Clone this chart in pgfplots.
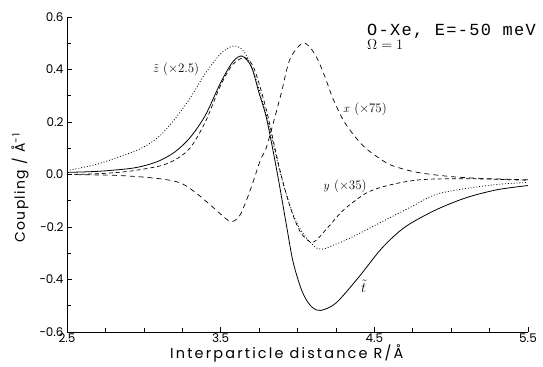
\documentclass[border=0pt]{standalone}
\usepackage{fontspec}
\setsansfont{Poppins}
\setmonofont{Liberation Mono}
\usepackage{pgfplots}
\pgfplotsset{compat=1.18}
\begin{document}
\begin{tikzpicture}
\begin{axis}[
  at={(0,0)}, anchor=south west,
  scale only axis, width=461bp, height=315bp,
  xmin=2.5, xmax=5.5, ymin=-0.6, ymax=0.6,
  clip=false,
  axis x line*=bottom, axis y line*=left,
  axis line style={-, line width=0.7pt},
  xtick={2.5,3.5,4.5,5.5}, xticklabels={2.5,3.5,4.5,5.5},
  minor xtick={2.75,3,3.25,3.75,4,4.25,4.75,5,5.25},
  ytick={-0.6,-0.4,-0.2,0,0.2,0.4,0.6},
  yticklabels={−0.6,−0.4,−0.2,0.0,0.2,0.4,0.6},
  minor ytick={-0.5,-0.3,-0.1,0.1,0.3,0.5},
  xtick pos=bottom, ytick pos=left,
  tick align=inside, major tick length=5bp, minor tick length=4bp,
  tick style={draw=black, line width=0.6pt},
  ticklabel style={font=\sffamily\fontsize{12}{14}\selectfont},
  xticklabel style={yshift=2bp},
  every axis x label/.style={at={(axis description cs:0.2234,-0.069)}, anchor=west, inner sep=0pt},
  every axis y label/.style={at={(axis description cs:-0.102,0.283)}, anchor=west, rotate=90, inner sep=0pt},
  xlabel={\sffamily\fontsize{14.5}{16}\selectfont\addfontfeatures{LetterSpace=15}Interparticle distance R/Å},
  ylabel={\sffamily\fontsize{14}{16}\selectfont\addfontfeatures{LetterSpace=10}Coupling / Å\textsuperscript{−1}},
]
% t (solid)
\addplot[black, line width=0.8pt, smooth, tension=0.5] coordinates {
(2.5,0.008) (2.7,0.012) (2.9,0.022) (3.0,0.033) (3.1,0.052) (3.2,0.085) (3.3,0.14)
(3.4,0.225) (3.5,0.35) (3.58,0.43) (3.64,0.451) (3.7,0.41) (3.75,0.31) (3.8,0.21)
(3.87,0.0) (3.93,-0.2) (3.97,-0.33) (4.02,-0.43) (4.06,-0.48) (4.1,-0.508) (4.15,-0.518) (4.25,-0.49)
(4.4,-0.39) (4.55,-0.28) (4.7,-0.20) (4.9,-0.135) (5.1,-0.088) (5.3,-0.058) (5.5,-0.042)
};
% z (dotted)
\addplot[black, line width=0.8pt, dash pattern=on 0.9pt off 2pt, smooth, tension=0.5] coordinates {
(2.5,0.015) (2.7,0.04) (2.9,0.08) (3.0,0.105) (3.1,0.145) (3.2,0.21) (3.3,0.29)
(3.4,0.385) (3.5,0.46) (3.58,0.489) (3.65,0.47) (3.72,0.38) (3.8,0.22) (3.9,-0.02)
(4.0,-0.19) (4.13,-0.282) (4.25,-0.265) (4.35,-0.24) (4.55,-0.18) (4.75,-0.12)
(4.9,-0.076) (5.1,-0.053) (5.3,-0.038) (5.5,-0.03)
};
% y (dashed)
\addplot[black, line width=0.7pt, dash pattern=on 4pt off 3pt, smooth, tension=0.5] coordinates {
(2.5,0.0) (2.7,0.003) (2.9,0.012) (3.1,0.032) (3.2,0.055) (3.3,0.10) (3.4,0.20)
(3.5,0.34) (3.58,0.42) (3.66,0.445) (3.72,0.40) (3.8,0.24) (3.88,0.03) (3.95,-0.12)
(4.02,-0.22) (4.1,-0.258) (4.2,-0.2) (4.3,-0.135) (4.45,-0.07) (4.6,-0.04)
(4.8,-0.02) (5.1,-0.016) (5.5,-0.022)
};
% x (dashed, longer)
\addplot[black, line width=0.7pt, dash pattern=on 5pt off 4pt, smooth, tension=0.5] coordinates {
(2.5,0.0) (2.8,-0.003) (3.0,-0.01) (3.15,-0.02) (3.25,-0.035) (3.35,-0.075)
(3.45,-0.125) (3.56,-0.178) (3.62,-0.16) (3.67,-0.095) (3.71,-0.03) (3.76,0.057)
(3.8,0.108) (3.89,0.30) (3.95,0.438) (4.03,0.50) (4.08,0.485) (4.13,0.44) (4.18,0.37)
(4.23,0.29) (4.3,0.205) (4.38,0.14) (4.45,0.097) (4.55,0.055) (4.62,0.033) (4.78,0.008)
(5.0,-0.008) (5.2,-0.015) (5.5,-0.02)
};
\node[anchor=center, font=\fontsize{13}{15}\selectfont] at (axis cs:3.21,0.40) {$\tilde z$ (×2.5)};
\node[anchor=center, font=\fontsize{13}{15}\selectfont] at (axis cs:4.44,0.248) {$x$ (×75)};
\node[anchor=center, font=\fontsize{13}{15}\selectfont] at (axis cs:4.31,-0.046) {$y$ (×35)};
\node[anchor=center, font=\fontsize{14}{16}\selectfont] at (axis cs:4.43,-0.425) {$\tilde t$};
\node[anchor=west, inner sep=0pt, font=\ttfamily\fontsize{17}{19}\selectfont\addfontfeatures{LetterSpace=8}] at (axis cs:4.452,0.545) {O-Xe, E=-50 meV};
\node[anchor=west, inner sep=0pt, font=\fontsize{14}{16}\selectfont] at (axis cs:4.452,0.493) {$\Omega=1$};
\end{axis}
\pgfresetboundingbox
\path[use as bounding box] (-67bp,-35bp) rectangle (476bp,332bp);
\end{tikzpicture}
\end{document}
